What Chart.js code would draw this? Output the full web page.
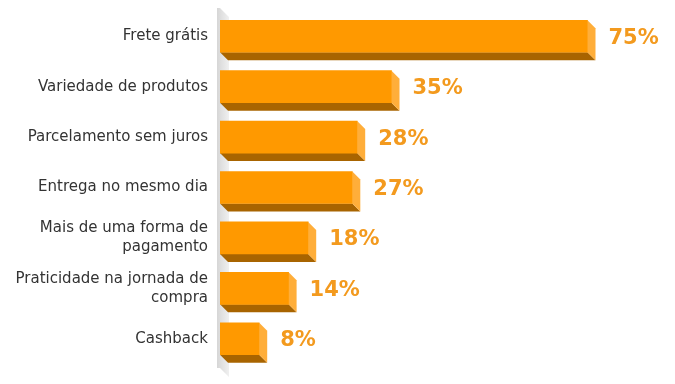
<!DOCTYPE html>
<html>
<head>
<meta charset="utf-8">
<script src="https://cdn.jsdelivr.net/npm/chart.js@4/dist/chart.umd.min.js"></script>
<style>
  html, body { margin: 0; padding: 0; background: #fff; }
  #wrap { width: 675px; height: 384px; }
</style>
</head>
<body>
<div id="wrap"><canvas id="chart" width="675" height="384"></canvas></div>
<script>
const categories = [
  "Frete grátis",
  "Variedade de produtos",
  "Parcelamento sem juros",
  "Entrega no mesmo dia",
  ["Mais de uma forma de", "pagamento"],
  ["Praticidade na jornada de", "compra"],
  "Cashback"
];
const values = [75, 35, 28, 27, 18, 14, 8];
const valueLabels = ["75%", "35%", "28%", "27%", "18%", "14%", "8%"];

const DEPTH = 8;

// back wall + 3D side/bottom faces for each bar
const bars3d = {
  id: "bars3d",
  beforeDatasetsDraw(chart) {
    const ctx = chart.ctx;
    const area = chart.chartArea;
    ctx.save();
    const g = ctx.createLinearGradient(area.left - 3, 0, area.left + DEPTH + 1, 0);
    g.addColorStop(0, "#d6d6d6");
    g.addColorStop(1, "#f0f0f0");
    ctx.fillStyle = g;
    ctx.beginPath();
    ctx.moveTo(area.left - 3, area.top - 3);
    ctx.lineTo(area.left, area.top - 3);
    ctx.lineTo(area.left + DEPTH + 1, area.top + DEPTH - 2);
    ctx.lineTo(area.left + DEPTH + 1, area.bottom + 13);
    ctx.lineTo(area.left, area.bottom + 4);
    ctx.lineTo(area.left - 3, area.bottom + 4);
    ctx.closePath();
    ctx.fill();

    chart.getDatasetMeta(0).data.forEach((bar) => {
      const x0 = bar.base, x1 = bar.x;
      const y0 = bar.y - bar.height / 2, y1 = bar.y + bar.height / 2;
      // bottom face
      ctx.fillStyle = "#a86400";
      ctx.beginPath();
      ctx.moveTo(x0, y1);
      ctx.lineTo(x1, y1);
      ctx.lineTo(x1 + DEPTH, y1 + DEPTH);
      ctx.lineTo(x0 + DEPTH, y1 + DEPTH);
      ctx.closePath();
      ctx.fill();
      // right face
      ctx.fillStyle = "#ffae3a";
      ctx.beginPath();
      ctx.moveTo(x1, y0);
      ctx.lineTo(x1 + DEPTH, y0 + DEPTH);
      ctx.lineTo(x1 + DEPTH, y1 + DEPTH);
      ctx.lineTo(x1, y1);
      ctx.closePath();
      ctx.fill();
    });
    ctx.restore();
  },
  afterDatasetsDraw(chart) {
    const ctx = chart.ctx;
    ctx.save();
    ctx.font = "bold 21px 'DejaVu Sans'";
    ctx.fillStyle = "#f39a1e";
    ctx.textAlign = "left";
    ctx.textBaseline = "middle";
    chart.getDatasetMeta(0).data.forEach((bar, i) => {
      ctx.fillText(valueLabels[i], bar.x + 21, bar.y + 2);
    });
    ctx.restore();
  }
};

new Chart(document.getElementById("chart").getContext("2d"), {
  type: "bar",
  data: {
    labels: categories,
    datasets: [{
      data: values,
      backgroundColor: "#ff9900",
      borderWidth: 0,
      barThickness: 32
    }]
  },
  options: {
    indexAxis: "y",
    responsive: false,
    animation: false,
    maintainAspectRatio: false,
    layout: { padding: { top: 11, bottom: 20, right: 14, left: 0 } },
    plugins: {
      legend: { display: false },
      tooltip: { enabled: false }
    },
    scales: {
      x: {
        display: false,
        min: 0,
        max: 90
      },
      y: {
        grid: { display: false, drawTicks: false },
        border: { display: false },
        afterFit(scale) {
          scale.width = 220;
          scale.paddingTop = 0;
          scale.paddingBottom = 0;
        },
        ticks: {
          padding: 12,
          color: "#333333",
          font: { family: "DejaVu Sans", size: 15, lineHeight: 1.27 }
        }
      }
    }
  },
  plugins: [bars3d]
});
</script>
</body>
</html>
